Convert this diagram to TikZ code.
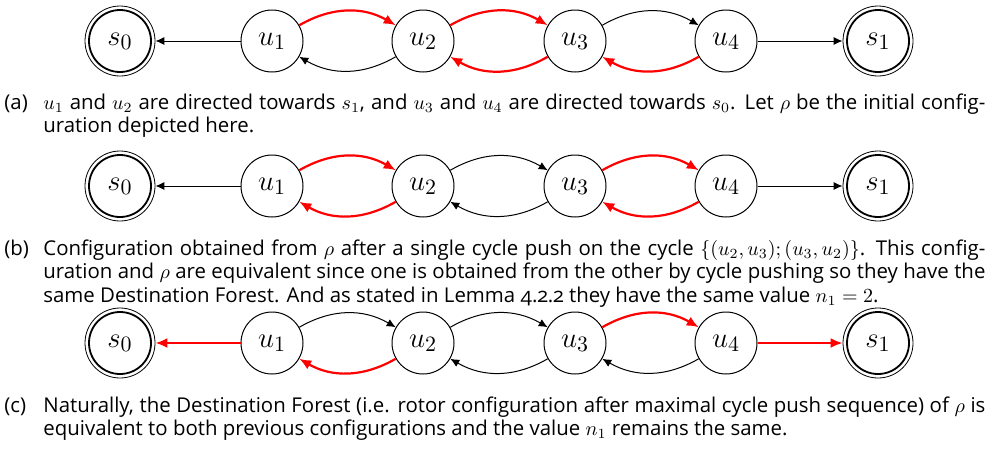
\documentclass[tikz,border=0pt]{standalone}
\usepackage{fontspec}
\setmainfont{Open Sans}[Numbers=OldStyle]
\usetikzlibrary{arrows.meta}
\begin{document}
\begin{tikzpicture}[x=0.5pt,y=-0.5pt,
  unode/.style={circle, draw, line width=0.5pt, minimum size=31pt, inner sep=0pt, font=\fontsize{15}{15}\selectfont},
  snode/.style={circle, draw, line width=0.4pt, minimum size=35pt, inner sep=0pt, font=\fontsize{15}{15}\selectfont},
  ring/.style={line width=0.9pt},
  blk/.style={-{Latex[length=4.5pt,width=4pt]}, line width=0.5pt, black},
  rd/.style={-{Latex[length=6pt,width=5pt]}, line width=1.1pt, red},
  captext/.style={anchor=base west, text width=490.5pt, align=justify, inner sep=0pt, font=\fontsize{10.2}{11.75}\selectfont}
]
\useasboundingbox[fill=white] (0,0) rectangle (995,450);
\foreach \r/\y in {a/41,b/186,c/343}{
  \node[snode] (\r s0) at (120,\y) {$s_0$};
  \draw[ring] (\r s0.center) circle[radius=15.5pt];
  \node[unode] (\r u1) at (272,\y) {$u_1$};
  \node[unode] (\r u2) at (423,\y) {$u_2$};
  \node[unode] (\r u3) at (575,\y) {$u_3$};
  \node[unode] (\r u4) at (726,\y) {$u_4$};
  \node[snode] (\r s1) at (878,\y) {$s_1$};
  \draw[ring] (\r s1.center) circle[radius=15.5pt];
}
% row (a)
\draw[blk] (au1) -- (as0);
\draw[blk] (au4) -- (as1);
\draw[rd]  (au1) to[bend left=30] (au2);
\draw[blk] (au2) to[bend left=30] (au1);
\draw[rd]  (au2) to[bend left=30] (au3);
\draw[rd]  (au3) to[bend left=30] (au2);
\draw[blk] (au3) to[bend left=30] (au4);
\draw[rd]  (au4) to[bend left=30] (au3);
% row (b)
\draw[blk] (bu1) -- (bs0);
\draw[blk] (bu4) -- (bs1);
\draw[rd]  (bu1) to[bend left=30] (bu2);
\draw[rd]  (bu2) to[bend left=30] (bu1);
\draw[blk] (bu2) to[bend left=30] (bu3);
\draw[blk] (bu3) to[bend left=30] (bu2);
\draw[rd]  (bu3) to[bend left=30] (bu4);
\draw[rd]  (bu4) to[bend left=30] (bu3);
% row (c)
\draw[rd]  (cu1) -- (cs0);
\draw[rd]  (cu4) -- (cs1);
\draw[blk] (cu1) to[bend left=30] (cu2);
\draw[rd]  (cu2) to[bend left=30] (cu1);
\draw[blk] (cu2) to[bend left=30] (cu3);
\draw[blk] (cu3) to[bend left=30] (cu2);
\draw[rd]  (cu3) to[bend left=30] (cu4);
\draw[blk] (cu4) to[bend left=30] (cu3);
% captions
\node[captext] (capa) at (4,109) {\noindent\hangindent=19.5pt\hangafter=1\makebox[19.5pt][l]{(a)}$u_1$ and $u_2$ are directed towards $s_1$, and $u_3$ and $u_4$ are directed towards $s_0$. Let $\rho$ be the initial config-\linebreak uration depicted here.\par};
\node[captext] (capb) at (4,255) {\noindent\hangindent=19.5pt\hangafter=1\makebox[19.5pt][l]{(b)}Configuration obtained from $\rho$ after a single cycle push on the cycle $\{(u_2,u_3);(u_3,u_2)\}$. This config-\linebreak uration and $\rho$ are equivalent since one is obtained from the other by cycle pushing so they have the\linebreak same Destination Forest. And as stated in Lemma 4.2.2 they have the same value $n_1=2$.\par};
\node[captext] (capc) at (4,412) {\noindent\hangindent=19.5pt\hangafter=1\makebox[19.5pt][l]{(c)}Naturally, the Destination Forest (i.e. rotor configuration after maximal cycle push sequence) of $\rho$ is\linebreak equivalent to both previous configurations and the value $n_1$ remains the same.\par};
\end{tikzpicture}
\end{document}
